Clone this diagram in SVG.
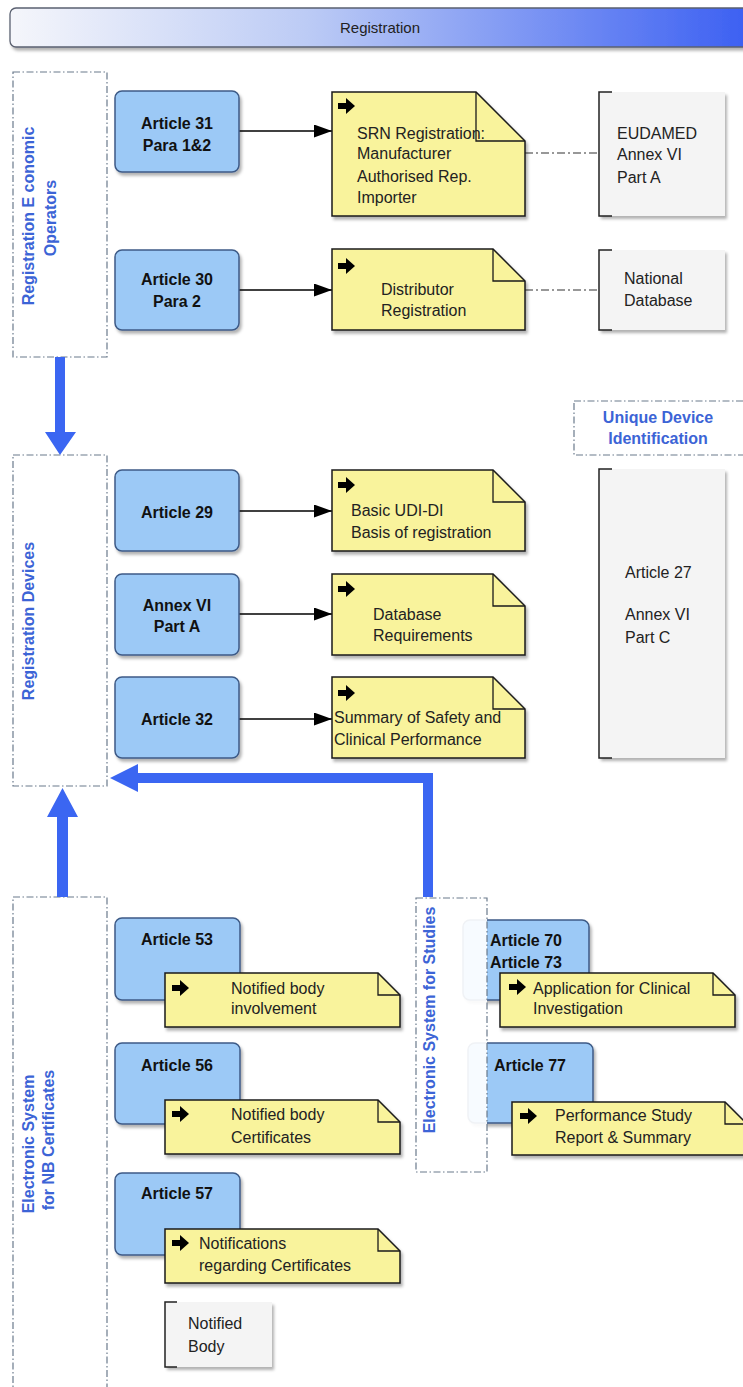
<svg xmlns="http://www.w3.org/2000/svg" width="743" height="1387" viewBox="0 0 743 1387">
<defs>
<linearGradient id="tg" x1="0" y1="0" x2="1" y2="0">
<stop offset="0" stop-color="#f5f6fb"/>
<stop offset="0.4" stop-color="#bccbf5"/>
<stop offset="1" stop-color="#3a5ef2"/>
</linearGradient>
<filter id="sh" x="-10%" y="-10%" width="130%" height="130%">
<feDropShadow dx="2" dy="3" stdDeviation="1.8" flood-color="#000" flood-opacity="0.3"/>
</filter>
<marker id="ah" markerUnits="userSpaceOnUse" markerWidth="18" markerHeight="14" refX="18" refY="6.5" orient="auto">
<path d="M0,0 L18,6.5 L0,13 Z" fill="#000"/>
</marker>
<path id="ico" d="M-8,-3 H0 V-8 L9,0 L0,8 V3 H-8 Z" fill="#000"/>
<style>
.t{font-family:"Liberation Sans",Arial,sans-serif;font-size:16px;fill:#222}
.b{font-family:"Liberation Sans",Arial,sans-serif;font-size:16px;font-weight:bold;fill:#111;text-anchor:middle}
.lbl{font-family:"Liberation Sans",Arial,sans-serif;font-size:16px;font-weight:bold;fill:#3c64d6;text-anchor:middle}
.cont{fill:#fff;stroke:#6a7a8c;stroke-width:1.2;stroke-dasharray:7,2.5,1.5,2.5}
.art{fill:#9cc9f6;stroke:#3d5a86;stroke-width:1.5;filter:url(#sh)}
.note{fill:#f9f39c;stroke:#1a1a1a;stroke-width:1.5;filter:url(#sh)}
.fold{fill:none;stroke:#1a1a1a;stroke-width:1.3}
.gray{fill:#f4f4f4;filter:url(#sh)}
.brk{fill:none;stroke:#222;stroke-width:1.5}
.con{stroke:#000;stroke-width:1.3;fill:none}
.dd{stroke:#333;stroke-width:1.2;fill:none;stroke-dasharray:8,3,2,3}
.blue{fill:#3b66f2}
</style>
</defs>
<rect width="743" height="1387" fill="#fff"/>

<g id="title">
<rect x="10" y="8" width="745" height="39" rx="6" fill="url(#tg)" stroke="#5a6070" stroke-width="1.3" filter="url(#sh)"/>
<text x="380" y="33" class="t" style="font-size:15px" text-anchor="middle">Registration</text>
</g>

<!-- containers -->
<g id="c-economic">
<rect x="13" y="72" width="94" height="285" class="cont"/>
<text transform="translate(34,216) rotate(-90)" class="lbl">Registration E conomic</text>
<text transform="translate(56,218) rotate(-90)" class="lbl">Operators</text>
</g>
<g id="c-devices">
<rect x="13" y="455" width="94" height="331" class="cont"/>
<text transform="translate(34,621) rotate(-90)" class="lbl">Registration Devices</text>
</g>
<g id="c-nb">
<rect x="13" y="897" width="94" height="500" class="cont"/>
<text transform="translate(34,1144) rotate(-90)" class="lbl">Electronic System</text>
<text transform="translate(54,1140) rotate(-90)" class="lbl">for NB Certificates</text>
</g>
<g id="c-udi">
<rect x="574" y="401" width="180" height="54" class="cont"/>
<text x="658" y="423" class="lbl">Unique Device</text>
<text x="658" y="444" class="lbl">Identification</text>
</g>

<!-- connectors -->
<g id="connectors">
<line x1="239" y1="131" x2="332" y2="131" class="con" marker-end="url(#ah)"/>
<line x1="239" y1="290" x2="332" y2="290" class="con" marker-end="url(#ah)"/>
<line x1="239" y1="511" x2="332" y2="511" class="con" marker-end="url(#ah)"/>
<line x1="239" y1="614" x2="332" y2="614" class="con" marker-end="url(#ah)"/>
<line x1="239" y1="719" x2="332" y2="719" class="con" marker-end="url(#ah)"/>
<line x1="525" y1="153" x2="599" y2="153" class="dd"/>
<line x1="525" y1="290" x2="599" y2="290" class="dd"/>
<path d="M55,357 H65 V432 H76 L60,455 L45,432 H55 Z" class="blue"/>
<path d="M57,897 V817 H47 L62.5,788 L78,817 H68 V897 Z" class="blue"/>
<path d="M423,897 V783 H138 V792 L110,778 L138,764 V773 H433 V897 Z" class="blue"/>
</g>

<!-- Economic operators -->
<g id="art31">
<rect x="115" y="91" width="124" height="81" rx="7" class="art"/>
<text x="177" y="129" class="b">Article 31</text>
<text x="177" y="151" class="b">Para 1&amp;2</text>
</g>
<g id="art30">
<rect x="115" y="250" width="124" height="80" rx="7" class="art"/>
<text x="177" y="285" class="b">Article 30</text>
<text x="177" y="307" class="b">Para 2</text>
</g>
<g id="n-srn">
<path d="M332,92 H476 L525,141 V216 H332 Z" class="note"/>
<path d="M476,92 V141 H525" class="fold"/>
<use href="#ico" x="346" y="106"/>
<text x="357" y="139" class="t">SRN Registration:</text>
<text x="357" y="159" class="t">Manufacturer</text>
<text x="357" y="182" class="t">Authorised Rep.</text>
<text x="357" y="203" class="t">Importer</text>
</g>
<g id="n-dist">
<path d="M332,249 H493 L525,281 V330 H332 Z" class="note"/>
<path d="M493,249 V281 H525" class="fold"/>
<use href="#ico" x="346" y="266"/>
<text x="381" y="295" class="t">Distributor</text>
<text x="381" y="316" class="t">Registration</text>
</g>
<g id="g-eudamed">
<rect x="599" y="92" width="126" height="124" class="gray"/>
<path d="M612,92 H599 V216 H612" class="brk"/>
<text x="617" y="139" class="t">EUDAMED</text>
<text x="617" y="160" class="t">Annex VI</text>
<text x="617" y="183" class="t">Part A</text>
</g>
<g id="g-national">
<rect x="599" y="250" width="126" height="80" class="gray"/>
<path d="M612,250 H599 V330 H612" class="brk"/>
<text x="624" y="284" class="t">National</text>
<text x="624" y="306" class="t">Database</text>
</g>

<!-- Devices -->
<g id="art29">
<rect x="115" y="470" width="124" height="81" rx="7" class="art"/>
<text x="177" y="518" class="b">Article 29</text>
</g>
<g id="annex6a">
<rect x="115" y="574" width="124" height="81" rx="7" class="art"/>
<text x="177" y="611" class="b">Annex VI</text>
<text x="177" y="632" class="b">Part A</text>
</g>
<g id="art32">
<rect x="115" y="677" width="124" height="81" rx="7" class="art"/>
<text x="177" y="725" class="b">Article 32</text>
</g>
<g id="n-udi">
<path d="M332,470 H493 L525,502 V551 H332 Z" class="note"/>
<path d="M493,470 V502 H525" class="fold"/>
<use href="#ico" x="346" y="485"/>
<text x="351" y="516" class="t">Basic UDI-DI</text>
<text x="351" y="538" class="t">Basis of registration</text>
</g>
<g id="n-db">
<path d="M332,574 H493 L525,606 V655 H332 Z" class="note"/>
<path d="M493,574 V606 H525" class="fold"/>
<use href="#ico" x="346" y="589"/>
<text x="373" y="620" class="t">Database</text>
<text x="373" y="641" class="t">Requirements</text>
</g>
<g id="n-sscp">
<path d="M332,677 H493 L525,709 V758 H332 Z" class="note"/>
<path d="M493,677 V709 H525" class="fold"/>
<use href="#ico" x="346" y="693"/>
<text x="334" y="723" class="t">Summary of Safety and</text>
<text x="334" y="745" class="t">Clinical Performance</text>
</g>
<g id="g-art27">
<rect x="599" y="469" width="126" height="289" class="gray"/>
<path d="M612,469 H599 V758 H612" class="brk"/>
<text x="625" y="578" class="t">Article 27</text>
<text x="625" y="620" class="t">Annex VI</text>
<text x="625" y="643" class="t">Part C</text>
</g>

<!-- NB certificates -->
<g id="art53">
<rect x="115" y="918" width="125" height="82" rx="7" class="art"/>
<text x="177" y="945" class="b">Article 53</text>
</g>
<g id="n-nbi">
<path d="M165,973 H378 L400,995 V1027 H165 Z" class="note"/>
<path d="M378,973 V995 H400" class="fold"/>
<use href="#ico" x="180" y="988"/>
<text x="231" y="994" class="t">Notified body</text>
<text x="231" y="1014" class="t">involvement</text>
</g>
<g id="art56">
<rect x="115" y="1043" width="125" height="81" rx="7" class="art"/>
<text x="177" y="1071" class="b">Article 56</text>
</g>
<g id="n-nbc">
<path d="M165,1100 H378 L400,1122 V1154 H165 Z" class="note"/>
<path d="M378,1100 V1122 H400" class="fold"/>
<use href="#ico" x="180" y="1114"/>
<text x="231" y="1120" class="t">Notified body</text>
<text x="231" y="1143" class="t">Certificates</text>
</g>
<g id="art57">
<rect x="115" y="1173" width="125" height="82" rx="7" class="art"/>
<text x="177" y="1199" class="b">Article 57</text>
</g>
<g id="n-notif">
<path d="M165,1229 H378 L400,1251 V1283 H165 Z" class="note"/>
<path d="M378,1229 V1251 H400" class="fold"/>
<use href="#ico" x="180" y="1243"/>
<text x="199" y="1249" class="t">Notifications</text>
<text x="199" y="1271" class="t">regarding Certificates</text>
</g>
<g id="g-nb">
<rect x="165" y="1302" width="107" height="65" class="gray"/>
<path d="M177,1302 H165 V1367 H177" class="brk"/>
<text x="188" y="1329" class="t">Notified</text>
<text x="188" y="1352" class="t">Body</text>
</g>

<!-- Studies -->
<g id="art70">
<rect x="463" y="920" width="126" height="80" rx="7" class="art"/>
</g>
<g id="art77">
<rect x="468" y="1043" width="125" height="80" rx="7" class="art"/>
</g>
<g id="c-studies">
<rect x="416" y="898" width="71" height="274" class="cont" fill-opacity="0.92"/>
<text transform="translate(435,1020) rotate(-90)" class="lbl">Electronic System for Studies</text>
</g>
<g id="art70-label">
<text x="526" y="946" class="b">Article 70</text>
<text x="526" y="968" class="b">Article 73</text>
</g>
<g id="art77-label">
<text x="530" y="1071" class="b">Article 77</text>
</g>
<g id="n-app">
<path d="M500,973 H713 L735,995 V1027 H500 Z" class="note"/>
<path d="M713,973 V995 H735" class="fold"/>
<use href="#ico" x="517" y="987"/>
<text x="533" y="994" class="t">Application for Clinical</text>
<text x="533" y="1014" class="t">Investigation</text>
</g>
<g id="n-perf">
<path d="M512,1102 H725 L747,1124 V1155 H512 Z" class="note"/>
<path d="M725,1102 V1124 H747" class="fold"/>
<use href="#ico" x="528" y="1116"/>
<text x="555" y="1121" class="t">Performance Study</text>
<text x="555" y="1143" class="t">Report &amp; Summary</text>
</g>
</svg>
